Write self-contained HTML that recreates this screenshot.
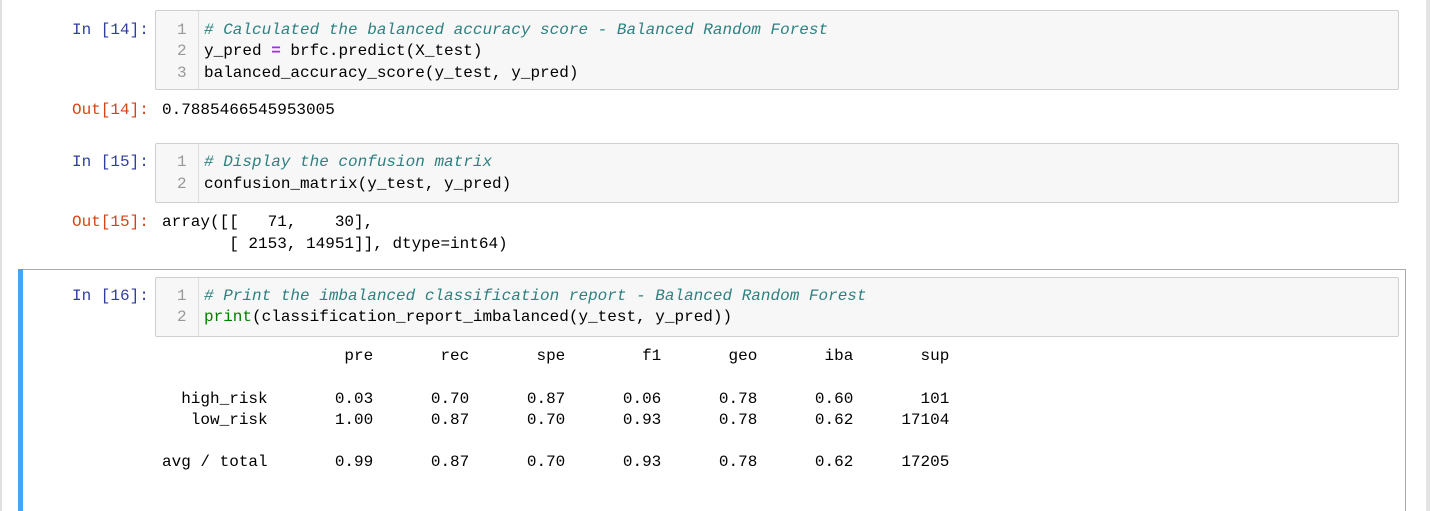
<!DOCTYPE html>
<html><head><meta charset="utf-8"><style>
html,body{margin:0;padding:0;width:1430px;height:511px;overflow:hidden;background:#fff;position:relative;font-family:"Liberation Mono",monospace;font-size:16px;}
.a{position:absolute;white-space:pre;line-height:22px;height:22px;}
.box{position:absolute;left:155px;width:1242px;background:#f7f7f7;border:1px solid #cfcfcf;border-radius:2px;}
.gut{position:absolute;left:0;top:0;bottom:0;width:42px;border-right:1px solid #ddd;}
.in{color:#303f9f;}
.out{color:#d84315;}
.ln{color:#999;}
.cm{color:#2f8080;font-style:italic;}
.op{color:#aa22ff;font-weight:bold;}
.bi{color:#008000;}
</style></head><body>
<div style="position:absolute;left:0;top:0;width:2px;height:511px;background:#e0e0e0"></div>
<div style="position:absolute;left:1426px;top:0;width:4px;height:511px;background:#e4e4e4"></div>

<!-- cell 14 -->
<div class="a in" style="left:72px;top:19px">In [14]:</div>
<div class="box" style="top:10px;height:78px"><div class="gut"></div></div>
<div class="a ln" style="left:177px;top:19px">1</div>
<div class="a ln" style="left:177px;top:40px">2</div>
<div class="a ln" style="left:177px;top:62px">3</div>
<div class="a cm" style="left:204px;top:19px"># Calculated the balanced accuracy score - Balanced Random Forest</div>
<div class="a" style="left:204px;top:40px">y_pred <span class="op">=</span> brfc.predict(X_test)</div>
<div class="a" style="left:204px;top:62px">balanced_accuracy_score(y_test, y_pred)</div>
<div class="a out" style="left:72px;top:99px">Out[14]:</div>
<div class="a" style="left:162px;top:99px">0.7885466545953005</div>

<!-- cell 15 -->
<div class="a in" style="left:72px;top:151px">In [15]:</div>
<div class="box" style="top:143px;height:58px"><div class="gut"></div></div>
<div class="a ln" style="left:177px;top:151px">1</div>
<div class="a ln" style="left:177px;top:173px">2</div>
<div class="a cm" style="left:204px;top:151px"># Display the confusion matrix</div>
<div class="a" style="left:204px;top:173px">confusion_matrix(y_test, y_pred)</div>
<div class="a out" style="left:72px;top:211px">Out[15]:</div>
<div class="a" style="left:162px;top:211px">array([[   71,    30],
       [ 2153, 14951]], dtype=int64)</div>

<!-- cell 16 selected -->
<div style="position:absolute;left:18px;top:269px;width:1388px;height:260px;border:1px solid #ababab;box-sizing:border-box;border-left:none"></div>
<div style="position:absolute;left:18px;top:269px;width:5px;height:260px;background:#42a5f5"></div>
<div class="a in" style="left:72px;top:285px">In [16]:</div>
<div class="box" style="top:277px;height:58px"><div class="gut"></div></div>
<div class="a ln" style="left:177px;top:285px">1</div>
<div class="a ln" style="left:177px;top:306px">2</div>
<div class="a cm" style="left:204px;top:285px"># Print the imbalanced classification report - Balanced Random Forest</div>
<div class="a" style="left:204px;top:306px"><span class="bi">print</span>(classification_report_imbalanced(y_test, y_pred))</div>
<div class="a" style="left:162px;top:346px;height:140px;line-height:21.3px">                   pre       rec       spe        f1       geo       iba       sup

  high_risk       0.03      0.70      0.87      0.06      0.78      0.60       101
   low_risk       1.00      0.87      0.70      0.93      0.78      0.62     17104

avg / total       0.99      0.87      0.70      0.93      0.78      0.62     17205</div>
</body></html>
